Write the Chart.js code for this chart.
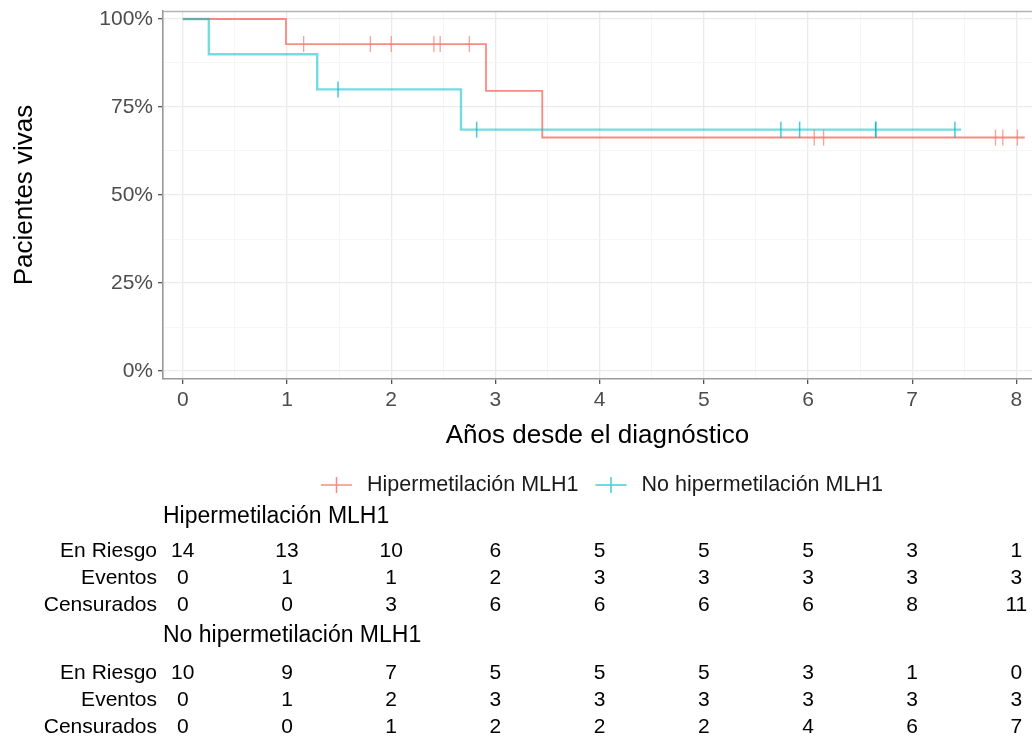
<!DOCTYPE html>
<html>
<head>
<meta charset="utf-8">
<script src="https://cdn.jsdelivr.net/npm/chart.js@4.4.1/dist/chart.umd.min.js"></script>
<style>
html,body{margin:0;padding:0;background:#fff;}
#wrap{width:1032px;height:740px;position:relative;}
</style>
</head>
<body>
<div id="wrap"><canvas id="c" width="1032" height="740"></canvas></div>
<script>
// ---- Data ----
const groupNames = ["Hipermetilación MLH1", "No hipermetilación MLH1"];
// Kaplan–Meier step curves (time in years, survival fraction)
const hiperTimes = [0, 0.99, 2.91, 3.45, 8.08];
const hiperSurv  = [1, 0.9286, 0.7959, 0.6633, 0.6633];
const hiperCensorTimes = [1.16, 1.80, 2.00, 2.41, 2.47, 2.75, 6.06, 6.15, 7.80, 7.87, 8.01];
const noHiperTimes = [0, 0.25, 1.29, 2.67, 7.47];
const noHiperSurv  = [1, 0.90, 0.80, 0.6857, 0.6857];
const noHiperCensorTimes = [1.49, 2.82, 5.74, 5.92, 6.65, 6.65, 7.41];
// Risk table
const tableTimes = [0, 1, 2, 3, 4, 5, 6, 7, 8];
const rowLabels = ["En Riesgo", "Eventos", "Censurados"];
const hiperRisk     = [14, 13, 10, 6, 5, 5, 5, 3, 1];
const hiperEvents   = [0, 1, 1, 2, 3, 3, 3, 3, 3];
const hiperCensored = [0, 0, 3, 6, 6, 6, 6, 8, 11];
const noHiperRisk     = [10, 9, 7, 5, 5, 5, 3, 1, 0];
const noHiperEvents   = [0, 1, 2, 3, 3, 3, 3, 3, 3];
const noHiperCensored = [0, 0, 1, 2, 2, 2, 4, 6, 7];
// Axis ticks
const xTicks = [0, 1, 2, 3, 4, 5, 6, 7, 8];
const yTicks = [0, 0.25, 0.5, 0.75, 1];
const yTickLabels = ["0%", "25%", "50%", "75%", "100%"];

// ---- Styles ----
const RED = "rgba(248,118,109,0.85)";
const CYAN = "rgba(0,191,196,0.55)";
const RED_MARK = "rgba(248,118,109,0.7)";
const CYAN_MARK = "rgba(0,191,196,0.75)";
const FONT = "'Liberation Sans', Arial, Helvetica, sans-serif";

function stepValue(times, surv, t) {
  let v = surv[0];
  for (let i = 0; i < times.length; i++) { if (times[i] <= t) v = surv[i]; }
  return v;
}
const curve = (times, surv) => times.map((t, i) => ({x: t, y: surv[i]}));
const marks = (ct, times, surv) => ct.map(t => ({x: t, y: stepValue(times, surv, t)}));

function isMajor(v, list) { return list.some(m => Math.abs(m - v) < 1e-9); }

const xAll = []; for (let v = 0; v <= 8.0001; v += 0.5) xAll.push(+v.toFixed(3));
const yAll = []; for (let v = 0; v <= 1.0001; v += 0.125) yAll.push(+v.toFixed(4));

const extras = {
  id: 'extras',
  afterDraw(chart) {
    const ctx = chart.ctx;
    const area = chart.chartArea;
    const xs = chart.scales.x;
    ctx.save();
    // top panel border
    ctx.strokeStyle = "#b3b3b3";
    ctx.lineWidth = 1.5;
    ctx.beginPath();
    ctx.moveTo(area.left, area.top + 0.5);
    ctx.lineTo(area.right, area.top + 0.5);
    ctx.stroke();

    // legend
    ctx.font = "21.5px " + FONT;
    ctx.textBaseline = "middle";
    ctx.textAlign = "left";
    const ly = 485;
    let lx = 321;
    const items = [[groupNames[0], RED], [groupNames[1], CYAN_MARK]];
    items.forEach((it, i) => {
      ctx.strokeStyle = it[1];
      ctx.lineWidth = 1.5;
      ctx.beginPath();
      ctx.moveTo(lx, ly); ctx.lineTo(lx + 31, ly);
      ctx.moveTo(lx + 15.5, ly - 8); ctx.lineTo(lx + 15.5, ly + 8);
      ctx.stroke();
      ctx.fillStyle = "#1a1a1a";
      ctx.fillText(it[0], lx + 46, ly);
      lx = lx + 46 + ctx.measureText(it[0]).width + 17;
    });

    // risk table
    const groups = [
      {name: groupNames[0], y: 517, rows: [hiperRisk, hiperEvents, hiperCensored], ry: [551, 578, 605]},
      {name: groupNames[1], y: 636, rows: [noHiperRisk, noHiperEvents, noHiperCensored], ry: [673, 700, 727]}
    ];
    groups.forEach(g => {
      ctx.fillStyle = "#000";
      ctx.font = "23px " + FONT;
      ctx.textAlign = "left";
      ctx.fillText(g.name, 163, g.y);
      ctx.font = "21px " + FONT;
      g.rows.forEach((vals, r) => {
        ctx.textAlign = "right";
        ctx.fillText(rowLabels[r], 157, g.ry[r]);
        ctx.textAlign = "center";
        vals.forEach((v, k) => {
          ctx.fillText(String(v), xs.getPixelForValue(tableTimes[k]), g.ry[r]);
        });
      });
    });
    ctx.restore();
  }
};

new Chart(document.getElementById('c'), {
  type: 'line',
  data: {
    datasets: [
      {label: groupNames[0], data: curve(hiperTimes, hiperSurv), stepped: true, borderColor: RED,
       borderWidth: 1.8, pointRadius: 0, fill: false, order: 3},
      {label: groupNames[1], data: curve(noHiperTimes, noHiperSurv), stepped: true, borderColor: CYAN,
       borderWidth: 2.4, pointRadius: 0, fill: false, order: 2},
      {label: 'c1', data: marks(hiperCensorTimes, hiperTimes, hiperSurv), showLine: false,
       pointStyle: 'line', rotation: 90, pointRadius: 8, pointBorderColor: RED_MARK, pointBorderWidth: 1.3,
       borderColor: RED_MARK, order: 1},
      {label: 'c2', data: marks(noHiperCensorTimes, noHiperTimes, noHiperSurv), showLine: false,
       pointStyle: 'line', rotation: 90, pointRadius: 8, pointBorderColor: CYAN_MARK, pointBorderWidth: 1.5,
       borderColor: CYAN_MARK, order: 0}
    ]
  },
  options: {
    responsive: false,
    animation: false,
    events: [],
    layout: {autoPadding: false, padding: {left: 0, right: 0, top: 11, bottom: 289}},
    plugins: {legend: {display: false}, tooltip: {enabled: false}},
    scales: {
      x: {
        type: 'linear', min: -0.19, max: 8.15,
        afterBuildTicks(s) { s.ticks = xAll.map(v => ({value: v})); },
        afterFit(s) { s.height = 72; s.paddingLeft = 0; s.paddingRight = 0; },
        ticks: {
          autoSkip: false, maxRotation: 0, padding: 4, color: "#4d4d4d",
          font: {family: FONT, size: 21},
          callback: (v) => isMajor(v, xTicks) ? String(v) : ""
        },
        grid: {
          color: (c) => isMajor(c.tick.value, xTicks) ? "#ebebeb" : "#f4f4f4",
          lineWidth: (c) => isMajor(c.tick.value, xTicks) ? 1.3 : 0.8,
          tickColor: (c) => isMajor(c.tick.value, xTicks) ? "#555" : "rgba(0,0,0,0)",
          tickLength: 5, drawTicks: true
        },
        border: {display: true, color: "#999", width: 1.6},
        title: {display: true, text: "Años desde el diagnóstico", color: "#000",
          font: {family: FONT, size: 26}, padding: {top: 0, bottom: 0}}
      },
      y: {
        type: 'linear', min: -0.0227, max: 1.0227,
        afterBuildTicks(s) { s.ticks = yAll.map(v => ({value: v})); },
        afterFit(s) { s.width = 163; s.paddingTop = 0; s.paddingBottom = 0; },
        ticks: {
          padding: 5, color: "#4d4d4d", font: {family: FONT, size: 21},
          callback: (v) => { const i = yTicks.findIndex(m => Math.abs(m - v) < 1e-9); return i >= 0 ? yTickLabels[i] : ""; }
        },
        grid: {
          color: (c) => isMajor(c.tick.value, yTicks) ? "#ebebeb" : "#f4f4f4",
          lineWidth: (c) => isMajor(c.tick.value, yTicks) ? 1.3 : 0.8,
          tickColor: (c) => isMajor(c.tick.value, yTicks) ? "#555" : "rgba(0,0,0,0)",
          tickLength: 5, drawTicks: true
        },
        border: {display: true, color: "#999", width: 1.6},
        title: {display: true, text: "Pacientes vivas", color: "#000",
          font: {family: FONT, size: 26}, padding: {top: 9, bottom: 0}}
      }
    }
  },
  plugins: [extras]
});
</script>
</body>
</html>
